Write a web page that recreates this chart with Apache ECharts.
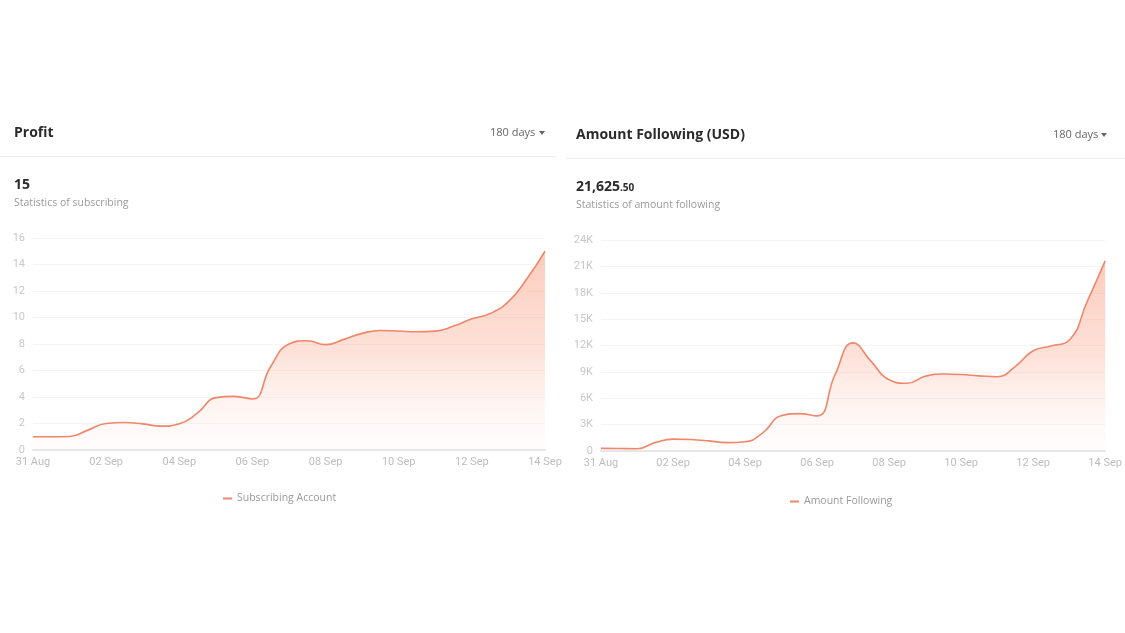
<!DOCTYPE html>
<html>
<head>
<meta charset="utf-8">
<script src="https://cdn.jsdelivr.net/npm/echarts@6/dist/echarts.min.js"></script>
<style>
html,body{margin:0;padding:0;background:#fff;}
#c{width:1125px;height:633px;}
</style>
</head>
<body>
<div id="c"></div>
<script>
// categories: half-day steps from 31 Aug to 14 Sep
var categories = [
  '31 Aug 00:00','31 Aug 12:00','01 Sep 00:00','01 Sep 12:00','02 Sep 00:00','02 Sep 12:00',
  '03 Sep 00:00','03 Sep 12:00','04 Sep 00:00','04 Sep 12:00','05 Sep 00:00','05 Sep 12:00',
  '06 Sep 00:00','06 Sep 12:00','07 Sep 00:00','07 Sep 12:00','08 Sep 00:00','08 Sep 12:00',
  '09 Sep 00:00','09 Sep 12:00','10 Sep 00:00','10 Sep 12:00','11 Sep 00:00','11 Sep 12:00',
  '12 Sep 00:00','12 Sep 12:00','13 Sep 00:00','13 Sep 12:00','14 Sep 00:00'
];
var subscribingAccount = [1, 1, 1.02, 1.5, 2.0, 2.07, 1.97, 1.8, 1.98, 2.8, 3.95, 4.05, 3.85, 6.3, 8.0, 8.25, 7.95, 8.35, 8.8, 9.02, 8.98, 8.92, 8.97, 9.35, 9.9, 10.3, 11.2, 12.9, 15];
var amountFollowing = [300, 290, 260, 950, 1350, 1300, 1150, 950, 1050, 2100, 4000, 4250, 4000, 8700, 12300, 10200, 8100, 7700, 8500, 8750, 8700, 8550, 8450, 9600, 11400, 11950, 12600, 17000, 21625.5];
var profitTicks = {min: 0, max: 16, interval: 2};
var amountTicks = {min: 0, max: 24000, interval: 3000};

var lineColor = '#F0866A';
var font = 'Open Sans';
var axisFont = 'Roboto';

function areaGrad() {
  return new echarts.graphic.LinearGradient(0, 0, 0, 1, [
    {offset: 0, color: 'rgba(249,150,118,0.70)'},
    {offset: 0.5, color: 'rgba(250,170,145,0.50)'},
    {offset: 1, color: 'rgba(255,230,222,0.12)'}
  ]);
}
function xAxis(gi) {
  return {
    type: 'category', gridIndex: gi, data: categories, boundaryGap: false,
    axisLine: {lineStyle: {color: '#e6e6e6', width: 2}},
    axisTick: {show: false},
    axisLabel: {interval: 3, color: '#bdbdbd', fontSize: 11, fontFamily: axisFont, margin: 7,
      formatter: function (v) { return v.slice(0, 6); }}
  };
}
function yAxis(gi, t, fmt) {
  return {
    type: 'value', gridIndex: gi, min: t.min, max: t.max, interval: t.interval,
    axisLine: {show: false}, axisTick: {show: false},
    splitLine: {lineStyle: {color: '#f4f4f4'}},
    axisLabel: {color: '#c8c8c8', fontSize: 11, fontFamily: axisFont, margin: 8, formatter: fmt}
  };
}
function txt(x, y, s, size, color, weight, align) {
  return {type: 'text', left: x, top: y, style: {text: s, fontSize: size, fill: color,
    fontWeight: weight || 'normal', fontFamily: font, textAlign: align || 'left', textVerticalAlign: 'middle'}};
}

var chart = echarts.init(document.getElementById('c'), null, {renderer: 'canvas'});
chart.setOption({
  animation: false,
  backgroundColor: '#fff',
  grid: [
    {left: 33, width: 512, top: 238, height: 212},
    {left: 601, width: 505, top: 240, height: 211}
  ],
  xAxis: [xAxis(0), xAxis(1)],
  yAxis: [
    yAxis(0, profitTicks, function (v) { return v; }),
    yAxis(1, amountTicks, function (v) { return v === 0 ? '0' : (v / 1000) + 'K'; })
  ],
  legend: [
    {data: ['Subscribing Account'], left: 223, top: 493, padding: 0, icon: 'rect', itemWidth: 9, itemHeight: 2,
      textStyle: {color: '#9a9a9a', fontSize: 10.5, fontFamily: font}, itemGap: 5},
    {data: ['Amount Following'], left: 790, top: 496, padding: 0, icon: 'rect', itemWidth: 9, itemHeight: 2,
      textStyle: {color: '#9a9a9a', fontSize: 10.5, fontFamily: font}, itemGap: 5}
  ],
  series: [
    {name: 'Subscribing Account', type: 'line', xAxisIndex: 0, yAxisIndex: 0, data: subscribingAccount,
      smooth: 0.5, showSymbol: false, symbol: 'none', color: lineColor,
      lineStyle: {color: lineColor, width: 1.6}, areaStyle: {color: areaGrad()}},
    {name: 'Amount Following', type: 'line', xAxisIndex: 1, yAxisIndex: 1, data: amountFollowing,
      smooth: 0.5, showSymbol: false, symbol: 'none', color: lineColor,
      lineStyle: {color: lineColor, width: 1.6}, areaStyle: {color: areaGrad()}}
  ],
  graphic: [
    txt(14, 126, 'Profit', 14, '#2b2b2b', 'bold'),
    txt(490, 127, '180 days', 11, '#666'),
    {type: 'polygon', shape: {points: [[539, 131], [545, 131], [542, 135]]}, style: {fill: '#666'}},
    {type: 'line', shape: {x1: 0, y1: 156.5, x2: 556, y2: 156.5}, style: {stroke: '#eeeeee', lineWidth: 1}},
    txt(14, 178, '15', 14, '#2b2b2b', 'bold'),
    txt(14, 198, 'Statistics of subscribing', 10.5, '#9a9a9a'),

    txt(576, 128, 'Amount Following (USD)', 14, '#2b2b2b', 'bold'),
    txt(1053, 129, '180 days', 11, '#666'),
    {type: 'polygon', shape: {points: [[1101, 133], [1107, 133], [1104, 137]]}, style: {fill: '#666'}},
    {type: 'line', shape: {x1: 565, y1: 158.5, x2: 1125, y2: 158.5}, style: {stroke: '#eeeeee', lineWidth: 1}},
    {type: 'text', left: 576, top: 180, style: {
      text: '{a|21,625}{b|.50}', fontFamily: font,
      rich: {a: {fontSize: 14, fontWeight: 'bold', fill: '#2b2b2b', fontFamily: font},
             b: {fontSize: 10, fontWeight: 'bold', fill: '#2b2b2b', fontFamily: font, padding: [3, 0, 0, 0]}}}},
    txt(576, 200, 'Statistics of amount following', 10.5, '#9a9a9a')
  ]
});
</script>
</body>
</html>
